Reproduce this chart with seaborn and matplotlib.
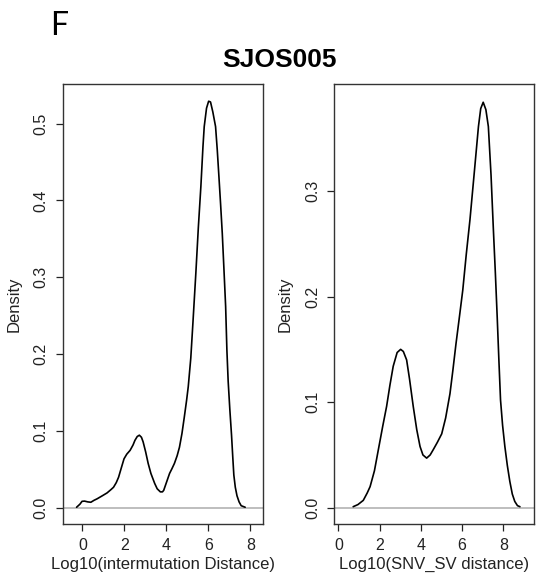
import matplotlib
matplotlib.use("Agg")
import matplotlib.pyplot as plt
import seaborn as sns
import pandas as pd

# ---- data ----
left_x = [-0.28, -0.12, -0.02, 0.10, 0.25, 0.40, 0.55, 0.70, 0.95, 1.17, 1.36, 1.48,
          1.61, 1.72, 1.86, 1.98, 2.11, 2.27, 2.41, 2.50, 2.61, 2.71, 2.81, 2.89,
          3.01, 3.13, 3.26, 3.44, 3.56, 3.71, 3.81, 3.87, 4.01, 4.15, 4.26, 4.38,
          4.51, 4.62, 4.74, 4.85, 4.96, 5.04, 5.16, 5.26, 5.40, 5.52, 5.64, 5.74,
          5.80, 5.91, 6.01, 6.10, 6.21, 6.34, 6.42, 6.50, 6.58, 6.66, 6.74, 6.82,
          6.88, 6.94, 7.02, 7.10, 7.16, 7.21, 7.28, 7.36, 7.46, 7.56, 7.75]
left_y = [0.001, 0.005, 0.0087, 0.009, 0.008, 0.0075, 0.010, 0.012, 0.016, 0.0196, 0.024, 0.027,
          0.033, 0.040, 0.053, 0.064, 0.070, 0.075, 0.082, 0.088, 0.093, 0.0947, 0.092, 0.086,
          0.073, 0.058, 0.045, 0.032, 0.025, 0.021, 0.021, 0.023, 0.034, 0.045, 0.051, 0.058,
          0.068, 0.079, 0.097, 0.118, 0.140, 0.158, 0.195, 0.240, 0.305, 0.365, 0.418, 0.470,
          0.496, 0.520, 0.529, 0.528, 0.515, 0.496, 0.466, 0.431, 0.395, 0.357, 0.310, 0.262,
          0.205, 0.165, 0.128, 0.095, 0.066, 0.043, 0.027, 0.016, 0.008, 0.003, 0.001]

right_x = [0.72, 0.95, 1.21, 1.40, 1.54, 1.75, 1.94, 2.15, 2.34, 2.50, 2.66, 2.85,
           3.02, 3.15, 3.31, 3.45, 3.63, 3.80, 3.96, 4.10, 4.28, 4.45, 4.60, 4.80,
           5.01, 5.20, 5.41, 5.55, 5.70, 5.85, 6.03, 6.20, 6.38, 6.60, 6.79, 6.90,
           7.02, 7.15, 7.27, 7.40, 7.51, 7.61, 7.70, 7.78, 7.86, 7.96, 8.07, 8.19,
           8.31, 8.43, 8.55, 8.68, 8.80]
right_y = [0.001, 0.003, 0.007, 0.014, 0.020, 0.035, 0.055, 0.077, 0.096, 0.116, 0.134, 0.147,
           0.150, 0.148, 0.140, 0.122, 0.096, 0.074, 0.058, 0.050, 0.047, 0.050, 0.055, 0.062,
           0.070, 0.085, 0.108, 0.130, 0.155, 0.178, 0.206, 0.240, 0.273, 0.320, 0.361, 0.378,
           0.384, 0.377, 0.361, 0.315, 0.265, 0.222, 0.180, 0.140, 0.102, 0.078, 0.058, 0.040,
           0.025, 0.013, 0.006, 0.002, 0.001]

x_ticks = [0, 2, 4, 6, 8]
left_yticks = [0.0, 0.1, 0.2, 0.3, 0.4, 0.5]
right_yticks = [0.0, 0.1, 0.2, 0.3]
left_xlabel = "Log10(intermutation Distance)"
right_xlabel = "Log10(SNV_SV distance)"
y_label = "Density"
title = "SJOS005"
panel_tag = "F"

# ---- style ----
sns.set_style("white")
plt.rcParams["font.family"] = ["Liberation Sans", "DejaVu Sans"]

fig = plt.figure(figsize=(5.36, 5.87), dpi=100)
ax1 = fig.add_axes([0.117, 0.1073, 0.3737, 0.7491])
ax2 = fig.add_axes([0.6231, 0.1073, 0.3731, 0.7491])

panels = [
    (ax1, left_x, left_y, left_yticks, left_xlabel, (-0.94, 8.6), (-0.0208, 0.551)),
    (ax2, right_x, right_y, right_yticks, right_xlabel, (-0.21, 9.48), (-0.0154, 0.401)),
]

for ax, xs, ys, yt, xl, xlim, ylim in panels:
    df = pd.DataFrame({"x": xs, "y": ys})
    ax.axhline(0, color="#BEBEBE", lw=1.4, zorder=1)
    sns.lineplot(data=df, x="x", y="y", ax=ax, color="black", lw=1.2,
                 sort=False, estimator=None, zorder=3)
    ax.set_xlim(*xlim)
    ax.set_ylim(*ylim)
    ax.set_xticks(x_ticks)
    ax.set_xticklabels([str(t) for t in x_ticks])
    ax.set_yticks(yt)
    ax.set_yticklabels([f"{t:.1f}" for t in yt], rotation=90, va="center")
    ax.tick_params(axis="both", direction="out", length=5, width=0.9,
                   color="#222222", labelsize=11.5, labelcolor="#222222",
                   bottom=True, left=True, pad=5)
    for s in ax.spines.values():
        s.set_visible(True)
        s.set_color("#333333")
        s.set_linewidth(1.0)
    ax.set_xlabel(xl, fontsize=12, color="#222222", labelpad=3)
    ax.set_ylabel(y_label, fontsize=12, color="#222222", labelpad=9)

fig.text(0.521, 0.8853, title, ha="center", va="baseline",
         fontsize=19, fontweight="bold", color="black")
fig.text(0.093, 0.9404, panel_tag, ha="left", va="baseline",
         fontsize=23, family=["Lato", "DejaVu Sans"], color="black")

fig.savefig("out.png", dpi=100)
